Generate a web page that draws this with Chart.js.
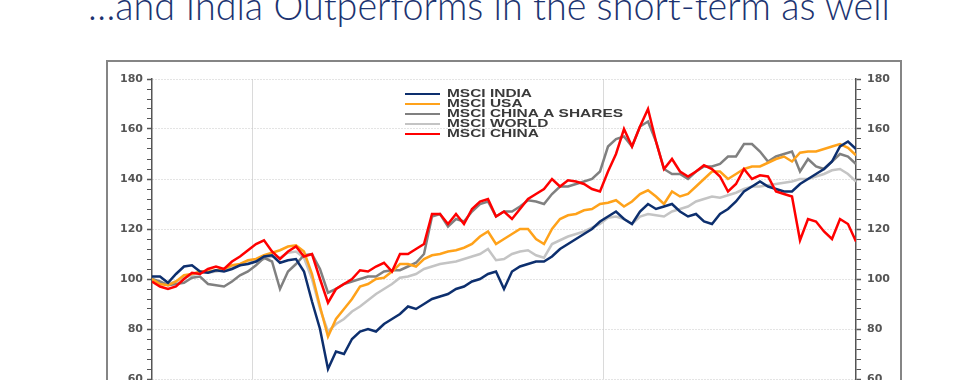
<!DOCTYPE html>
<html>
<head>
<meta charset="utf-8">
<script src="https://cdn.jsdelivr.net/npm/chart.js@4.4.0/dist/chart.umd.min.js"></script>
<style>
  html, body { margin: 0; padding: 0; background: #fff; }
  body { width: 980px; height: 380px; overflow: hidden; position: relative; }
  #title {
    position: absolute; left: 88px; top: -15px;
    font-family: Lato, "Open Sans", sans-serif; font-weight: 300;
    font-size: 40px; line-height: 40px; color: #1c3370;
    white-space: nowrap; transform-origin: left top;
  }
  #frame {
    position: absolute; left: 106px; top: 60px;
    width: 792px; height: 400px; border: 2px solid #858585;
  }
  #chart { position: absolute; left: 0; top: 0; }
</style>
</head>
<body>
<div id="title">…and India Outperforms in the short-term as well</div>
<div id="frame"><canvas id="chart" width="792" height="360"></canvas></div>
<script>
// ---- data (one value every ~1.1 week, Oct 2019 -> Sep 2021, rebased 100) ----
const seriesNames = ['MSCI INDIA', 'MSCI USA', 'MSCI CHINA A SHARES', 'MSCI WORLD', 'MSCI CHINA'];
const seriesColors = ['#0d2f6e', '#ffa21a', '#808080', '#c4c4c4', '#ff0000'];

const india = [101, 101, 98.5, 102, 105, 105.5, 103, 102.5, 103.5, 103, 104, 105.5, 106, 107, 109, 109.5,
  106.5, 107.5, 108, 103, 91, 80, 64, 71, 70, 76, 79, 80, 79, 82, 84, 86, 89, 88, 90, 92, 93, 94, 96, 97,
  99, 100, 102, 103, 96, 103, 105, 106, 107, 107, 109, 112, 114, 116, 118, 120, 123, 125, 127, 124, 122,
  127, 130, 128, 129, 130, 127, 125, 126, 123, 122, 126, 128, 131, 135, 137, 139, 137, 136, 135, 135,
  138, 140, 142, 144, 147, 153, 155, 152];

const usa = [100, 98, 97.5, 99, 101.5, 102, 103, 103, 103.5, 104, 105.5, 106, 107.5, 108, 109.5, 110.5,
  111.5, 113, 113.5, 111, 102, 89, 77, 84, 88, 92, 97, 98, 100, 100.5, 103, 106, 106, 105, 108, 109.5,
  110, 111, 111.5, 112.5, 114, 117, 119, 114, 116, 118, 120, 120, 116, 114, 120, 124, 125.5, 126, 127.5,
  128, 130, 130.5, 131.5, 129, 131, 134, 135.5, 133, 130, 135, 133, 134, 137, 140, 143, 143, 140, 142,
  144, 145, 145, 146.5, 148, 149, 147, 150.5, 151, 151, 152, 153, 154, 152.5, 149.5];

const chinaA = [100, 99, 97.5, 98, 98.5, 100.5, 101, 98, 97.5, 97, 99, 101.5, 103, 105.5, 108.5, 107,
  96, 103, 106, 109.5, 110, 104, 94.5, 96, 98, 99, 100, 101, 101, 103, 103.5, 103.5, 105, 106.5, 110,
  125, 126, 121, 124, 123, 127, 130, 131, 125, 127, 127, 129, 131.5, 131, 130, 134, 137, 137, 138, 139,
  140, 143, 153, 156, 157, 153, 161, 163, 155, 144, 142, 142, 140, 143, 145, 145, 146, 149, 149, 154,
  154, 151, 147, 149, 150, 151, 143, 148, 145, 144, 147, 150, 149, 146];

const world = [100, 98.5, 98, 99, 100.5, 101.5, 102.5, 102.5, 103, 103.5, 104.5, 105.5, 106.5, 107, 108,
  109, 108.5, 110.5, 111, 108.5, 100, 88, 79, 82, 84, 87, 89, 91.5, 94, 96, 98, 100.5, 101, 102, 104, 105,
  106, 106.5, 107, 108, 109, 110, 112, 107.5, 108, 110, 111, 111.5, 109.5, 108.5, 114, 115.5, 117, 118,
  119, 120.5, 122, 124.5, 125, 124, 122, 125, 126, 125.5, 125, 127, 128, 129, 131, 132, 133, 132.5,
  133.5, 134.5, 136, 137, 137, 137.5, 138, 138.5, 139, 140, 140, 141, 142, 143.5, 144, 142, 139];

const china = [99, 97, 96, 97, 100, 102.5, 102, 104, 105, 104, 107, 109, 111.5, 114, 115.5, 111, 108,
  111, 113, 109, 110, 100, 90.5, 96, 98, 100, 103.5, 103, 105, 106.5, 103, 110, 110, 112, 114, 126, 126,
  122, 126, 122, 128, 131, 132, 125, 127, 124, 128, 132, 134, 136, 140, 137, 139.5, 139, 138, 136, 135,
  143, 150, 160, 153, 161, 168, 155, 144, 148, 143, 141, 143, 145.5, 144, 141, 135, 138, 144, 140, 141.5,
  141, 135, 134, 133, 115.5, 124, 123, 119, 116, 124, 122, 115];

// positions (in sample units) of the two year gridlines: Jan 2020, Jan 2021
const yearLines = [12.5, 56.4];
const yTicks = { min: 60, max: 180, major: 20, minor: 4 };

const allSeries = [india, usa, chinaA, world, china];
const drawOrder = [2, 3, 4, 5, 1];

const datasets = allSeries.map((vals, k) => ({
  label: seriesNames[k],
  data: vals.map((v, i) => ({ x: i, y: v })),
  borderColor: seriesColors[k],
  backgroundColor: seriesColors[k],
  borderWidth: 2.5,
  pointRadius: 0,
  tension: 0,
  order: drawOrder[k]
}));

// legend drawn inside the plot, like the original
const insideLegend = {
  id: 'insideLegend',
  afterDatasetsDraw(chart) {
    const ctx = chart.ctx;
    const a = chart.chartArea;
    const x0 = a.left + 253, y0 = a.top + 15, rowH = 10;
    ctx.save();
    ctx.font = 'bold 10px "Liberation Sans", Arial, sans-serif';
    const sx = 176 / ctx.measureText('MSCI CHINA A SHARES').width;
    chart.data.datasets.forEach((ds, k) => {
      const y = y0 + k * rowH;
      ctx.strokeStyle = ds.borderColor;
      ctx.lineWidth = 2;
      ctx.beginPath();
      ctx.moveTo(x0, y);
      ctx.lineTo(x0 + 35, y);
      ctx.stroke();
      ctx.save();
      ctx.translate(x0 + 42, y);
      ctx.scale(sx, 1);
      ctx.fillStyle = '#3a3a3a';
      ctx.textBaseline = 'middle';
      ctx.fillText(ds.label, 0, 0.5);
      ctx.restore();
    });
    ctx.restore();
  }
};

function yAxis(pos) {
  return {
    type: 'linear',
    position: pos,
    min: yTicks.min,
    max: yTicks.max,
    afterFit(scale) { scale.width = 44; },
    ticks: {
      stepSize: yTicks.minor,
      autoSkip: false,
      padding: pos === 'left' ? 4 : 6,
      color: '#555',
      font: { family: '"DejaVu Sans", sans-serif', size: 11, weight: 'bold' },
      callback: v => (v % yTicks.major === 0 ? v : '')
    },
    grid: {
      drawOnChartArea: pos === 'left',
      color: c => (c.tick && c.tick.value % yTicks.major === 0 ? '#c8c8c8' : 'rgba(0,0,0,0)'),
      lineWidth: 1,
      tickColor: '#555',
      tickLength: 5,
      tickWidth: c => (c.tick && c.tick.value % yTicks.major === 0 ? 1.5 : 1)
    },
    border: { color: '#555', width: 1.5, dash: [1, 2] }
  };
}

new Chart(document.getElementById('chart'), {
  type: 'line',
  data: { datasets },
  options: {
    responsive: false,
    animation: false,
    devicePixelRatio: 1,
    layout: { padding: { top: 17, bottom: 43, left: 0, right: 0 } },
    plugins: { legend: { display: false }, tooltip: { enabled: false } },
    scales: {
      x: {
        type: 'linear',
        min: 0,
        max: india.length - 1,
        afterBuildTicks(scale) { scale.ticks = yearLines.map(v => ({ value: v })); },
        afterFit(scale) { scale.height = 0; },
        ticks: { display: false },
        grid: { color: '#dadada', lineWidth: 1, drawTicks: false },
        border: { display: false }
      },
      y: yAxis('left'),
      y2: yAxis('right')
    }
  },
  plugins: [insideLegend]
});

// fit the title to the width of the original line
const t = document.getElementById('title');
t.style.transform = 'scaleX(' + (802 / t.scrollWidth) + ')';
</script>
</body>
</html>
